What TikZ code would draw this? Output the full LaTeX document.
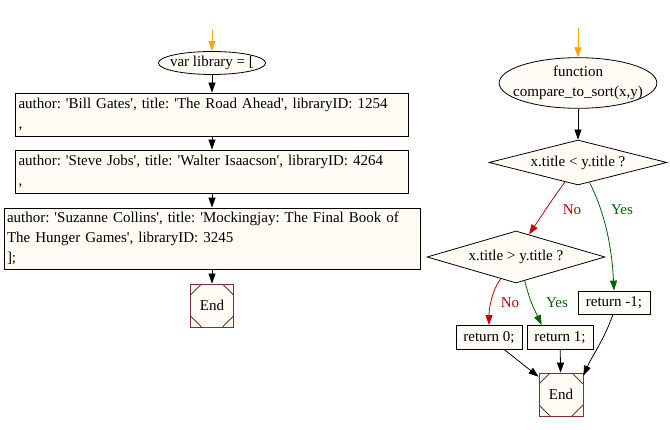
\documentclass[tikz,border=0pt]{standalone}
\usepackage{fontspec}
\setmainfont{Liberation Serif}
\usetikzlibrary{shapes.geometric,arrows.meta}
\definecolor{boxfill}{RGB}{255,252,246}
\definecolor{endline}{RGB}{128,48,48}
\definecolor{noline}{RGB}{200,0,0}
\definecolor{yesline}{RGB}{0,100,0}
\definecolor{startline}{RGB}{255,165,0}
\newcommand{\q}{\textquotesingle}
\tikzset{msquare/.style={draw=endline,fill=boxfill,minimum width=43pt,minimum height=43pt,inner sep=0pt,
  path picture={\draw[endline]
    ([xshift=11pt]path picture bounding box.north west) -- ([yshift=-11pt]path picture bounding box.north west)
    ([xshift=-11pt]path picture bounding box.north east) -- ([yshift=-11pt]path picture bounding box.north east)
    ([xshift=11pt]path picture bounding box.south west) -- ([yshift=11pt]path picture bounding box.south west)
    ([xshift=-11pt]path picture bounding box.south east) -- ([yshift=11pt]path picture bounding box.south east);}}}

\begin{document}
\frenchspacing
\begin{tikzpicture}[x=1pt,y=-1pt,line width=0.8pt,font=\fontsize{15}{20}\selectfont,
  box/.style={draw,fill=boxfill,inner sep=3pt},
  textbox/.style={box,align=left,text width=#1,minimum width=#1+6pt},
  start/.style={draw,fill=boxfill,ellipse,inner sep=0pt},
  test/.style={draw,fill=boxfill,diamond,aspect=4,inner sep=0pt,minimum width=178pt,minimum height=45pt},
  flow/.style={-{Triangle[length=10pt,width=7pt]}},
  lbl/.style={inner sep=1pt}]
\useasboundingbox (0,0) rectangle (670,430);
% left column: the library array
\node[start,inner xsep=-4pt,minimum height=23pt] (lib) at (212,63) {var library = [};
\node[textbox=387pt,minimum height=43pt] (b1) at (212,114.5) {author: \q Bill Gates\q, title: \q The Road Ahead\q, libraryID: 1254\\,};
\node[textbox=387pt,minimum height=43pt] (b2) at (212,171.5) {author: \q Steve Jobs\q, title: \q Walter Isaacson\q, libraryID: 4264\\,};
\node[textbox=410pt,minimum height=61pt] (b3) at (212,238.5) {author: \q Suzanne Collins\q, title: \q Mockingjay: The Final Book of\\The Hunger Games\q, libraryID: 3245\\];};
\node[msquare] (end1) at (212,305.5) {End};
\coordinate (s1) at (212,30);
\draw[flow,startline] (s1) -- (lib);
\draw[flow] (lib) -- (b1);
\draw[flow] (b1) -- (b2);
\draw[flow] (b2) -- (b3);
\draw[flow] (b3) -- (end1);
% right column: compare function
\node[start,align=center,inner xsep=-9pt,inner ysep=1pt] (fn) at (578,83) {function\\compare\_to\_sort(x,y)};
\node[test] (q1) at (578,162.5) {x.title < y.title ?};
\node[test,minimum height=52pt] (q2) at (516,257) {x.title > y.title ?};
\node[box,minimum width=72pt,minimum height=23pt] (r3) at (614,302.5) {return -1;};
\node[box,minimum width=66pt,minimum height=24pt] (r0) at (489,337.5) {return 0;};
\node[box,minimum width=66pt,minimum height=24pt] (r1) at (560,337.5) {return 1;};
\node[msquare,minimum width=44pt] (end2) at (561,394.5) {End};
\coordinate (s2) at (578,28);
\draw[flow,startline] (s2) -- (fn);
\draw[flow] (fn) -- (q1);
% decisions
\draw[flow,noline] (q1.236) .. controls (552,200) .. (q2.60);
\draw[flow,yesline] (q1.300) .. controls (606,215) and (612,250) .. (r3.north);
\draw[flow,noline] (q2.235) .. controls (491,292) and (489,310) .. (r0.north);
\draw[flow,yesline] (q2.290) .. controls (530,300) .. (r1.146);
\node[lbl,text=noline] (n1) at (572,210) {No};
\node[lbl,text=yesline] (y1) at (622,210) {Yes};
\node[lbl,text=noline] (n2) at (510,303) {No};
\node[lbl,text=yesline] (y2) at (557,303) {Yes};
% returns
\draw[flow] (r0) -- (end2);
\draw[flow] (r1) -- (end2);
\draw[flow] (r3.265) .. controls (604,340) and (592,356) .. (end2.40);
\end{tikzpicture}
\end{document}
